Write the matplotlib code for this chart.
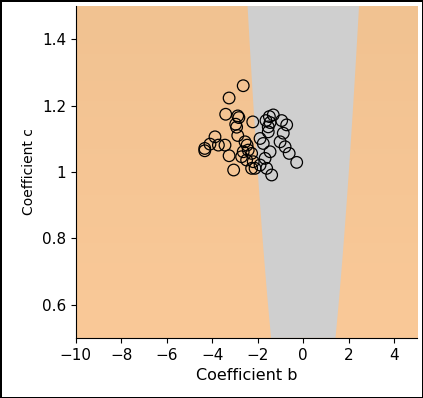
import numpy as np
import matplotlib
matplotlib.use("Agg")
import matplotlib.pyplot as plt
from matplotlib.colors import LinearSegmentedColormap
from matplotlib.ticker import FormatStrFormatter

# Nokta verileri (katsayı b, katsayı c)
b_vals = [-2.64, -3.26, -3.41, -2.88, -2.83, -2.22, -2.97, -2.93, -2.88, -3.88,
          -4.10, -4.33, -4.33, -3.73, -3.44, -3.26, -3.06, -2.56, -2.47, -2.42,
          -2.64, -2.71, -2.49, -2.27, -2.20, -2.27, -2.12,
          -1.32, -1.49, -1.64, -1.46, -1.54, -1.54, -0.95, -0.73, -0.88, -1.02,
          -0.80, -0.62, -0.29, -1.90, -1.76, -1.46, -1.68, -1.90, -1.61, -1.39]
c_vals = [1.260, 1.223, 1.174, 1.169, 1.164, 1.151, 1.144, 1.135, 1.110, 1.106,
          1.084, 1.071, 1.064, 1.081, 1.081, 1.049, 1.006, 1.091, 1.081, 1.066,
          1.061, 1.046, 1.036, 1.056, 1.031, 1.011, 1.011,
          1.172, 1.167, 1.155, 1.149, 1.136, 1.121, 1.155, 1.142, 1.117, 1.091,
          1.076, 1.056, 1.029, 1.101, 1.086, 1.061, 1.041, 1.021, 1.011, 0.991]

a_coef = 1.0  # sabit a katsayısı
b_lim = (-10, 5)
c_lim = (0.5, 1.5)
x_ticks = [-10, -8, -6, -4, -2, 0, 2, 4]
y_ticks = [0.6, 0.8, 1.0, 1.2, 1.4]

fig = plt.figure(figsize=(4.23, 3.98), dpi=100)
fig.patch.set_edgecolor("black")
fig.patch.set_linewidth(2)
ax = fig.add_axes([0.179, 0.151, 0.807, 0.8337])

# arka plan: c'ye göre hafif turuncu geçiş
turuncu = LinearSegmentedColormap.from_list("tur", ["#fac998", "#f1c291"])
ax.imshow(np.linspace(*c_lim, 200).reshape(-1, 1), cmap=turuncu, origin="lower",
          aspect="auto", extent=(b_lim[0], b_lim[1], c_lim[0], c_lim[1]),
          vmin=c_lim[0], vmax=c_lim[1])

# diskriminant b^2 - 4ac < 0 ise karmaşık kökler (gri bölge)
bb, cc = np.meshgrid(np.linspace(*b_lim, 1501), np.array(c_lim))
disk = bb**2 - 4 * a_coef * cc
ax.contourf(bb, cc, disk, levels=[disk.min() - 1, 0], colors=["#cfcfcf"], antialiased=True)

ax.scatter(b_vals, c_vals, s=70, facecolors="none", edgecolors="black", linewidths=0.9, zorder=3)

ax.set_xlim(*b_lim)
ax.set_ylim(*c_lim)
ax.set_xticks(x_ticks)
ax.set_yticks(y_ticks)
ax.yaxis.set_major_formatter(FormatStrFormatter("%g"))
ax.tick_params(labelsize=11)
ax.spines["top"].set_visible(False)
ax.spines["right"].set_visible(False)
ax.set_xlabel("Coefficient b", fontsize=11.5)
ax.set_ylabel("Coefficient c", fontsize=10)

fig.savefig("out.png", dpi=100, edgecolor=fig.get_edgecolor())
